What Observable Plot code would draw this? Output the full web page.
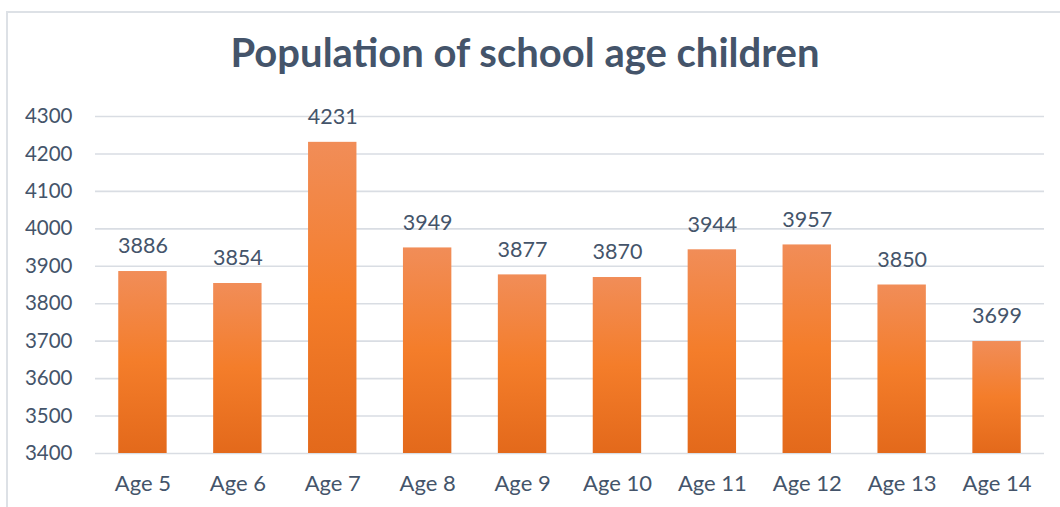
<!DOCTYPE html>
<html>
<head>
<meta charset="utf-8">
<script src="https://cdn.jsdelivr.net/npm/d3@7"></script>
<script src="https://cdn.jsdelivr.net/npm/@observablehq/plot@0.6"></script>
<style>
  html, body { margin: 0; padding: 0; background: #fff; }
  #wrap { position: relative; width: 1060px; height: 507px; overflow: hidden; font-family: Lato, "Open Sans", sans-serif; }
  #frame { position: absolute; left: 6px; top: 11px; width: 1100px; height: 600px; border: 2px solid #dde1e6; box-sizing: border-box; }
  #title { position: absolute; left: 0; width: 1050px; top: 28px; line-height: 48px; text-align: center; font-size: 40px; font-weight: bold; color: #44546a; }
  #chart { position: absolute; left: 0; top: 90px; }
</style>
</head>
<body>
<div id="wrap">
  <div id="frame"></div>
  <div id="title">Population of school age children</div>
  <div id="chart"></div>
</div>
<script>
const categories = ["Age 5", "Age 6", "Age 7", "Age 8", "Age 9", "Age 10", "Age 11", "Age 12", "Age 13", "Age 14"];
const values = [3886, 3854, 4231, 3949, 3877, 3870, 3944, 3957, 3850, 3699];
const yTicks = [3400, 3500, 3600, 3700, 3800, 3900, 4000, 4100, 4200, 4300];
const yMin = 3400, yMax = 4300;

const data = categories.map((c, i) => ({category: c, value: values[i]}));
const textColor = "#44546a";
const gridColor = "#d9dde3";

const plot = Plot.plot({
  width: 1060,
  height: 417,
  marginTop: 26,
  marginBottom: 54,
  marginLeft: 95,
  marginRight: 16,
  style: {fontFamily: "Lato, 'Open Sans', sans-serif", fontSize: "20.5px", color: textColor, background: "transparent"},
  x: {domain: categories, round: false, paddingInner: 0.49, paddingOuter: 0.245, label: null, tickSize: 0, tickPadding: 22, fontSize: 22},
  y: {domain: [yMin, yMax], ticks: yTicks, label: null, tickSize: 0, tickPadding: 23, tickFormat: d => String(d)},
  marks: [
    Plot.ruleY(yTicks, {stroke: gridColor, strokeWidth: 1.6}),
    Plot.barY(data, {x: "category", y1: yMin, y2: "value", fill: "url(#barGrad)"}),
    Plot.text(data, {x: "category", y: "value", text: d => String(d.value), dy: -25, fill: textColor, fontSize: 21.5}),
    Plot.axisX({tickSize: 0, tickPadding: 22, fontSize: 22, label: null})
  ]
});

const svg = d3.select(plot);
const grad = svg.insert("defs", ":first-child").append("linearGradient")
  .attr("id", "barGrad").attr("x1", 0).attr("y1", 0).attr("x2", 0).attr("y2", 1);
grad.append("stop").attr("offset", "0%").attr("stop-color", "#f18d58");
grad.append("stop").attr("offset", "50%").attr("stop-color", "#f47d2a");
grad.append("stop").attr("offset", "100%").attr("stop-color", "#e3691b");

document.getElementById("chart").appendChild(plot);
</script>
</body>
</html>
